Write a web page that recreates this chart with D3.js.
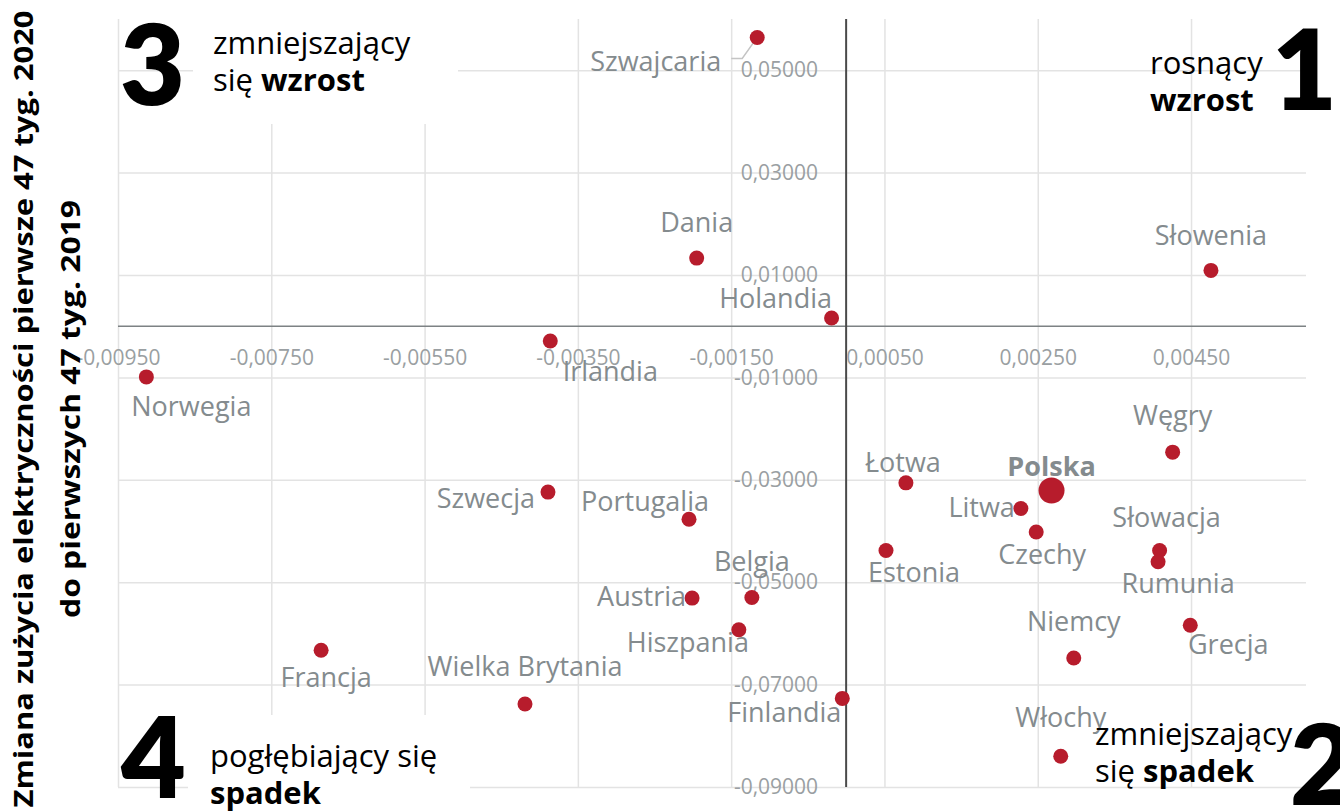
<!DOCTYPE html>
<html><head><meta charset="utf-8">
<script src="https://cdn.jsdelivr.net/npm/d3@7"></script>
<style>
html,body{margin:0;padding:0;background:#fff;}
svg{display:block;font-family:"Open Sans",Lato,sans-serif;}
</style></head>
<body><svg id="chart" width="1340" height="811"></svg>
<script>
// ---- data ----
const countries = ["Szwajcaria","Dania","Holandia","Słowenia","Irlandia","Norwegia","Węgry","Polska","Łotwa","Litwa","Czechy","Estonia","Słowacja","Rumunia","Grecja","Niemcy","Włochy","Finlandia","Belgia","Hiszpania","Austria","Portugalia","Szwecja","Francja","Wielka Brytania"];
const xValues = [-0.00116,-0.00195,-0.00019,0.00476,-0.00386,-0.00913,0.00426,0.00268,0.00078,0.00228,0.00248,0.00052,0.00409,0.00407,0.00449,0.00297,0.00280,-0.00005,-0.00123,-0.00140,-0.00201,-0.00205,-0.00389,-0.00685,-0.00419];
const yValues = [0.0564,0.0133,0.0016,0.0109,-0.0029,-0.0099,-0.0246,-0.0321,-0.0306,-0.0356,-0.0402,-0.0438,-0.0438,-0.0460,-0.0584,-0.0648,-0.0840,-0.0727,-0.0530,-0.0593,-0.0531,-0.0377,-0.0324,-0.0633,-0.0738];
const xTicks = [-0.0095,-0.0075,-0.0055,-0.0035,-0.0015,0.0005,0.0025,0.0045];
const yTicks = [0.05,0.03,0.01,-0.01,-0.03,-0.05,-0.07,-0.09];
const yTitle = ["Zmiana zużycia elektryczności pierwsze 47 tyg. 2020","do pierwszych 47 tyg. 2019"];

// ---- label layout (anchor, dx, dy in px) ----
const labelLayout = {
 "Szwajcaria":["end",-36,34],"Dania":["middle",0,-26],"Holandia":["middle",-56,-10],"Słowenia":["middle",0,-25],
 "Irlandia":["middle",60,40],"Norwegia":["middle",45,39],"Węgry":["middle",0,-27],"Polska":["middle",0,-15],
 "Łotwa":["middle",-3,-11],"Litwa":["end",-6,9],"Czechy":["middle",6,32],"Estonia":["middle",28,32],
 "Słowacja":["middle",7,-23],"Rumunia":["middle",20,31],"Grecja":["middle",38,29],"Niemcy":["middle",0,-27],
 "Włochy":["middle",0,-29],"Finlandia":["end",-1,24],"Belgia":["middle",0,-27],"Hiszpania":["middle",-51,22],
 "Austria":["end",-6,8],"Portugalia":["middle",-44,-8],"Szwecja":["end",-13,16],"Francja":["middle",5,37],
 "Wielka Brytania":["middle",0,-28]
};

const svg = d3.select("#chart");
const x = d3.scaleLinear().domain([-0.0095, 0.006]).range([118, 1306]);
const y = d3.scaleLinear().domain([-0.09, 0.06]).range([787, 19]);
const loc = d3.formatLocale({decimal:",", thousands:" ", grouping:[3], currency:["",""], minus:"-"});
const fmt = loc.format(".5f");

const gridColor = "#e3e3e3";
// vertical gridlines
const gxg = svg.append("g").attr("transform",`translate(0,${y(-0.09)})`)
  .call(d3.axisTop(x).tickValues(xTicks).tickSize(y(-0.09)-y(0.06)).tickFormat(""));
gxg.select(".domain").remove();
gxg.selectAll("line").attr("stroke",gridColor).attr("stroke-width",1.5);
// horizontal gridlines
const gyg = svg.append("g").attr("transform",`translate(${x(-0.0095)},0)`)
  .call(d3.axisRight(y).tickValues(yTicks).tickSize(x(0.006)-x(-0.0095)).tickFormat(""));
gyg.select(".domain").remove();
gyg.selectAll("line").attr("stroke",gridColor).attr("stroke-width",1.5);

// white boxes behind quadrant 3 and 4 notes
svg.append("rect").attr("x",193).attr("y",0).attr("width",265).attr("height",124).attr("fill","#fff");
svg.append("rect").attr("x",188).attr("y",715).attr("width",282).attr("height",96).attr("fill","#fff");

// zero lines
svg.append("line").attr("x1",x(-0.0095)).attr("x2",x(0.006)).attr("y1",y(0)).attr("y2",y(0))
  .attr("stroke","#7d8284").attr("stroke-width",1.6);
svg.append("line").attr("x1",x(0)).attr("x2",x(0)).attr("y1",y(0.06)).attr("y2",y(-0.09))
  .attr("stroke","#4a4a4a").attr("stroke-width",2);

const tickColor = "#9a9fa2";
// x tick labels
const xa = svg.append("g").attr("transform",`translate(0,${y(0)})`)
  .call(d3.axisBottom(x).tickValues(xTicks).tickSize(0).tickPadding(24).tickFormat(fmt));
xa.select(".domain").remove();
xa.selectAll("text").attr("fill",tickColor).style("font-size","21px").style("font-family","Open Sans");
// y tick labels
const ya = svg.append("g").attr("transform",`translate(${x(0)},0)`)
  .call(d3.axisLeft(y).tickValues(yTicks).tickSize(0).tickPadding(28).tickFormat(fmt));
ya.select(".domain").remove();
ya.selectAll("text").attr("fill",tickColor).style("font-size","21px").style("font-family","Open Sans");

// data
const data = countries.map((c,i)=>({name:c, x:xValues[i], y:yValues[i]}));

// leader line for Szwajcaria
const sz = data.find(d=>d.name==="Szwajcaria");
svg.append("path")
  .attr("d",`M${x(sz.x)},${y(sz.y)} L${x(sz.x)-15},${y(sz.y)+21} L${x(sz.x)-26},${y(sz.y)+21}`)
  .attr("fill","none").attr("stroke","#c4c4c4").attr("stroke-width",1.5);

svg.append("g").selectAll("circle").data(data).join("circle")
  .attr("cx",d=>x(d.x)).attr("cy",d=>y(d.y))
  .attr("r",d=>d.name==="Polska"?13:7.5)
  .attr("fill","#b71c2c");

svg.append("g").selectAll("text").data(data).join("text")
  .attr("x",d=>x(d.x)+labelLayout[d.name][1])
  .attr("y",d=>y(d.y)+labelLayout[d.name][2])
  .attr("text-anchor",d=>labelLayout[d.name][0])
  .attr("fill","#848b8e")
  .style("font-size","27px")
  .style("font-weight",d=>d.name==="Polska"?"bold":"normal")
  .text(d=>d.name);

// quadrant annotations
function note(num, nx, ny, lines, tx, anchor){
  svg.append("text").attr("x",nx).attr("y",ny).attr("font-size",112).attr("font-weight","800")
    .style("font-family","Lato").attr("fill","#000").text(num);
  const t = svg.append("text").attr("x",tx[0]).attr("y",tx[1]).attr("text-anchor",anchor)
    .attr("font-size",31).attr("fill","#000");
  lines.forEach((ln,i)=>{
    const ts = t.append("tspan").attr("x",tx[0]).attr("dy",i===0?0:37);
    ln.forEach(part=>ts.append("tspan").attr("font-weight",part[1]?"bold":"normal").text(part[0]));
  });
}
note("3",120,105,[[["zmniejszający",0]],[["się ",0],["wzrost",1]]],[213,54],"start");
note("1",1272,110,[[["rosnący",0]],[["wzrost",1]]],[1150,74],"start");
note("4",121,798,[[["pogłębiający się",0]],[["spadek",1]]],[210,767],"start");
note("2",1290,805,[[["zmniejszający",0]],[["się ",0],["spadek",1]]],[1095,745],"start");

// y axis title
const yt = svg.append("text").attr("transform","translate(0,409) rotate(-90)")
  .attr("text-anchor","middle").attr("font-weight","bold").attr("font-size",27).attr("fill","#000");
yt.append("tspan").attr("x",0).attr("y",33).attr("textLength",797).attr("lengthAdjust","spacingAndGlyphs").text(yTitle[0]);
yt.append("tspan").attr("x",0).attr("y",80).attr("textLength",418).attr("lengthAdjust","spacingAndGlyphs").text(yTitle[1]);
</script></body></html>
